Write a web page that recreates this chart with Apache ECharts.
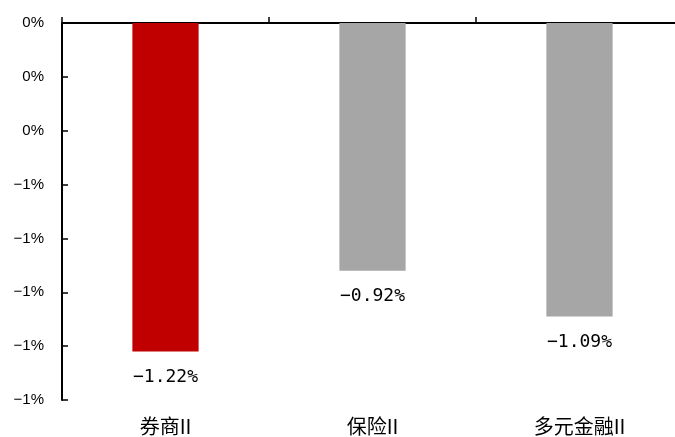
<!DOCTYPE html>
<html>
<head>
<meta charset="utf-8">
<script src="https://cdn.jsdelivr.net/npm/echarts@6/dist/echarts.min.js"></script>
<style>
  html, body { margin: 0; padding: 0; background: #fff; }
  #chart { width: 675px; height: 437px; }
</style>
</head>
<body>
<div id="chart"></div>
<script>
// Weekly change by sub-sector (%)
const categories = ['券商II', '保险II', '多元金融II'];
const changes = [-1.22, -0.92, -1.09];
const barColors = ['#C00000', '#A6A6A6', '#A6A6A6'];

const yMin = -1.4;
const yMax = 0;
const yStep = 0.2;

const MINUS = '\u2212';
function pct(v, digits) {
  const s = digits ? Math.abs(v).toFixed(digits) : String(Math.abs(Math.round(v)));
  const neg = digits ? v < 0 : Math.round(v) < 0;
  return (neg ? MINUS : '') + s + '%';
}

const chart = echarts.init(document.getElementById('chart'));
chart.setOption({
  animation: false,
  // the plot runs a little past the right edge of the canvas
  grid: { left: 62, top: 23, width: 621, bottom: 37, outerBoundsMode: 'none', containLabel: false },
  xAxis: [
    {
      // category labels under the plot
      type: 'category',
      data: categories,
      position: 'bottom',
      axisLine: { show: false },
      axisTick: { show: false },
      axisLabel: {
        margin: 16,
        color: '#000',
        fontSize: 20,
        fontFamily: '"Noto Sans CJK SC", sans-serif'
      }
    },
    {
      // zero line across the top with boundary ticks
      type: 'category',
      data: categories,
      position: 'top',
      axisLine: { show: true, lineStyle: { color: '#000', width: 2 } },
      axisTick: { show: true, length: 6, lineStyle: { color: '#000', width: 1.5 } },
      axisLabel: { show: false }
    }
  ],
  yAxis: {
    type: 'value',
    min: yMin,
    max: yMax,
    interval: yStep,
    axisLine: { show: true, lineStyle: { color: '#000', width: 2 } },
    axisTick: { show: true, inside: true, length: 6, lineStyle: { color: '#000', width: 1.5 } },
    splitLine: { show: false },
    axisLabel: {
      margin: 18,
      color: '#000',
      fontSize: 15,
      fontFamily: '"Liberation Sans", Arial, sans-serif',
      formatter: v => pct(v, 0)
    }
  },
  series: [{
    type: 'bar',
    xAxisIndex: 0,
    barWidth: '32%',
    data: changes.map((v, i) => ({ value: v, itemStyle: { color: barColors[i] } })),
    label: {
      show: true,
      position: 'bottom',
      distance: 17,
      color: '#000',
      fontSize: 18,
      fontFamily: '"DejaVu Sans Mono", monospace',
      formatter: p => pct(p.value, 2)
    }
  }]
});
</script>
</body>
</html>
